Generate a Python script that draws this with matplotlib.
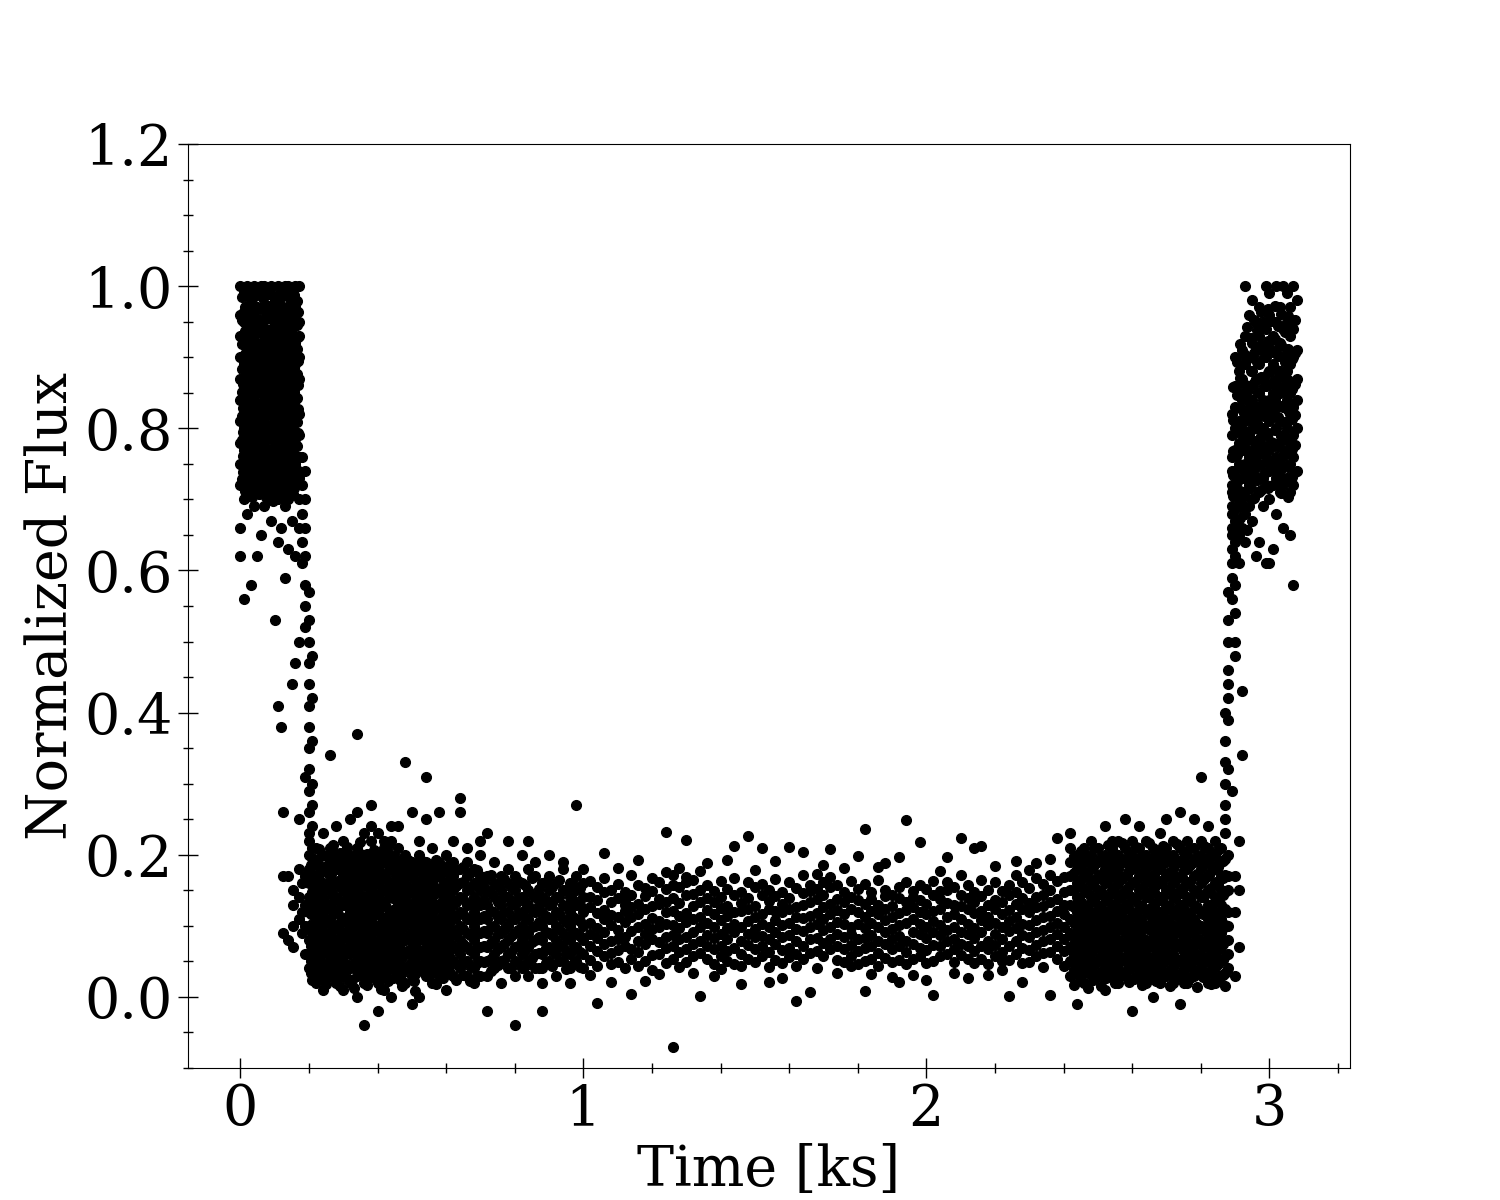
import numpy as np
import matplotlib.pyplot as plt
from matplotlib.ticker import MultipleLocator

plt.rcParams['font.family'] = ['DejaVu Serif']

# Данные: для каждой колонки времени (кс) — список значений потока

# вход в затмение, верхнее плато
top_in_t = [0.00, 0.01, 0.02, 0.03, 0.04, 0.05, 0.06, 0.07, 0.08, 0.09,
            0.10, 0.11, 0.12, 0.13, 0.14, 0.15, 0.16, 0.17]
top_in_f = [
    [1.00, .96, .93, .90, .87, .84, .81, .78, .75, .72, .66, .62],
    [.99, .95, .92, .89, .86, .83, .80, .77, .74, .70, .56],
    [1.00, .97, .94, .91, .88, .85, .82, .79, .76, .73, .68],
    [.98, .95, .92, .89, .86, .83, .80, .77, .74, .71, .58],
    [1.00, .96, .93, .90, .87, .84, .81, .78, .75, .72, .69],
    [.99, .97, .94, .91, .88, .85, .82, .79, .76, .73, .62],
    [1.00, .95, .92, .89, .86, .83, .80, .77, .74, .71, .65],
    [1.00, .97, .94, .90, .87, .84, .81, .78, .75, .72, .69],
    [.99, .96, .93, .91, .88, .85, .82, .79, .76, .73, .70],
    [1.00, .97, .94, .89, .86, .83, .80, .77, .74, .71, .67],
    [.98, .95, .92, .90, .87, .84, .81, .78, .75, .72, .53],
    [1.00, .96, .93, .88, .85, .82, .79, .76, .73, .70, .64, .41],
    [.99, .97, .94, .91, .86, .83, .80, .77, .74, .71, .66, .38],
    [1.00, .95, .92, .89, .87, .84, .81, .78, .75, .72, .69, .59],
    [1.00, .97, .93, .90, .85, .82, .79, .76, .73, .70, .63],
    [.98, .96, .94, .91, .88, .83, .80, .77, .74, .71, .67, .44],
    [1.00, .97, .92, .89, .86, .84, .81, .78, .75, .72, .62, .47],
    [1.00, .95, .93, .90, .87, .82, .79, .76, .73, .70, .66, .50],
]
top_in2_t = [0.005, 0.015, 0.025, 0.035, 0.045, 0.055, 0.065, 0.075, 0.085,
             0.095, 0.105, 0.115, 0.125, 0.135, 0.145, 0.155, 0.165]
top_in2_f = [
    [.985, .952, .918, .884, .851, .817, .783, .749, .728],
    [.971, .937, .904, .869, .836, .803, .768, .735, .712],
    [.991, .958, .923, .891, .857, .824, .789, .756, .721],
    [.976, .943, .909, .875, .842, .808, .774, .741, .703],
    [.987, .953, .919, .886, .852, .818, .785, .751, .724],
    [.969, .935, .901, .868, .834, .801, .767, .733, .708],
    [.984, .949, .916, .882, .848, .814, .781, .747, .715],
    [.973, .939, .906, .872, .838, .805, .771, .737, .704],
    [.989, .955, .921, .888, .854, .821, .787, .753, .726],
    [.968, .934, .901, .866, .833, .799, .766, .732, .698],
    [.981, .947, .913, .879, .846, .812, .778, .744, .711],
    [.974, .941, .907, .873, .839, .806, .772, .738, .706],
    [.986, .952, .918, .884, .851, .817, .783, .749, .719],
    [.971, .937, .903, .869, .836, .802, .768, .734, .701],
    [.983, .949, .915, .881, .847, .814, .780, .746, .713],
    [.976, .942, .908, .874, .841, .807, .773, .739, .707],
    [.979, .945, .911, .877, .843, .809, .775, .741, .722],
]
top_in3_t = [0.007, 0.017, 0.027, 0.037, 0.047, 0.057, 0.067, 0.077, 0.087,
             0.097, 0.107, 0.117, 0.127, 0.137, 0.147, 0.157, 0.167]
top_in3_f = [
    [.962, .931, .897, .862, .829, .795, .761, .738],
    [.993, .948, .914, .881, .847, .814, .779, .745],
    [.969, .936, .902, .867, .833, .801, .766, .732],
    [.995, .958, .925, .892, .857, .824, .791, .757, .722],
    [.971, .937, .903, .869, .835, .802, .768, .734],
    [.988, .953, .919, .885, .852, .818, .784, .751, .717],
    [.966, .932, .898, .864, .831, .797, .763, .729],
    [.991, .957, .923, .889, .855, .822, .788, .754, .719],
    [.972, .938, .904, .871, .837, .803, .769, .736],
    [.986, .952, .918, .884, .850, .816, .783, .749, .714],
    [.964, .929, .896, .862, .828, .794, .761, .727],
    [.989, .955, .921, .887, .853, .819, .786, .752, .718],
    [.969, .935, .901, .867, .834, .799, .765, .731],
    [.992, .958, .924, .889, .856, .822, .788, .754, .719],
    [.966, .932, .898, .864, .830, .796, .762, .729],
    [.987, .953, .919, .885, .851, .817, .784, .751, .716],
    [.963, .929, .895, .861, .827, .793, .759, .727],
]

# спад и отдельные точки слева от дна
drop_t = [0.125, 0.14, 0.155, 0.17, 0.18, 0.19, 0.20, 0.21]
drop_f = [
    [.17, .09, .26],
    [.17, .08],
    [.15, .13, .07, .10],
    [.14, .11, .25, .18],
    [.76, .72, .68, .64, .61, .16, .12, .09],
    [.74, .70, .66, .62, .58, .55, .52, .31, .17, .13, .10, .06],
    [.57, .53, .50, .47, .44, .41, .38, .35, .32, .29, .26, .23],
    [.48, .42, .36, .30, .27, .24, .21],
]

# дно затмения
bot_t = [0.20, 0.22, 0.24, 0.26, 0.28, 0.30, 0.32, 0.34, 0.36, 0.38, 0.40, 0.42, 0.44,
         0.46, 0.48, 0.50, 0.52, 0.54, 0.56, 0.58, 0.60, 0.62, 0.64, 0.66, 0.68, 0.70,
         0.72, 0.74, 0.76, 0.78, 0.80, 0.82, 0.84, 0.86, 0.88, 0.90, 0.92, 0.94, 0.96,
         0.98, 1.00]
bot_f = [
    [.20, .18, .16, .14, .12, .10, .08, .06, .04, .22],
    [.21, .19, .17, .15, .13, .11, .09, .07, .05, .03, .02],
    [.20, .18, .16, .14, .12, .10, .08, .06, .04, .23, .01],
    [.21, .19, .17, .15, .13, .11, .09, .07, .05, .03, .34],
    [.20, .18, .16, .14, .12, .10, .08, .06, .04, .02, .24],
    [.22, .19, .17, .15, .13, .11, .09, .07, .05, .03, .01],
    [.20, .18, .16, .14, .12, .10, .08, .06, .04, .25, .02],
    [.21, .19, .17, .15, .13, .11, .09, .07, .05, .03, .37, .00, .26],
    [.23, .20, .18, .16, .14, .12, .10, .08, .06, .04, .02, -.04],
    [.22, .19, .17, .15, .13, .11, .09, .07, .05, .03, .24, .27],
    [.20, .18, .16, .14, .12, .10, .08, .06, .04, .02, .23, -.02],
    [.21, .19, .17, .15, .13, .11, .09, .07, .05, .03, .22, .01],
    [.22, .20, .18, .16, .14, .12, .10, .08, .06, .04, .24, .00],
    [.19, .17, .15, .13, .11, .09, .07, .05, .03, .24, .21],
    [.20, .18, .16, .14, .12, .10, .08, .06, .04, .02, .33],
    [.19, .17, .15, .13, .11, .09, .07, .05, .03, .26, -.01],
    [.20, .18, .16, .14, .12, .10, .08, .06, .04, .22, .00],
    [.19, .17, .15, .13, .11, .09, .07, .05, .03, .31, .25],
    [.21, .18, .16, .14, .12, .10, .08, .06, .04, .02],
    [.19, .17, .15, .13, .11, .09, .07, .05, .03, .26],
    [.20, .18, .16, .14, .12, .10, .08, .06, .04, .01],
    [.19, .17, .15, .13, .11, .09, .07, .05, .03, .22],
    [.18, .16, .14, .12, .10, .08, .06, .04, .26, .28],
    [.19, .17, .15, .13, .11, .09, .07, .05, .03, .21],
    [.18, .16, .14, .12, .10, .08, .06, .04, .02],
    [.17, .15, .13, .11, .09, .07, .05, .03, .20, .22],
    [.17, .15, .13, .11, .09, .07, .05, .03, .23, -.02],
    [.16, .14, .12, .10, .08, .06, .04, .19],
    [.17, .15, .13, .11, .09, .07, .05, .02],
    [.18, .16, .14, .12, .10, .08, .06, .04, .22],
    [.17, .15, .13, .11, .09, .07, .05, .03, -.04],
    [.16, .14, .12, .10, .08, .06, .04, .20],
    [.18, .15, .13, .11, .09, .07, .05, .03, .22],
    [.17, .14, .12, .10, .08, .06, .04, .19],
    [.16, .14, .12, .10, .08, .06, .04, .02, -.02],
    [.17, .15, .13, .11, .09, .07, .05, .20],
    [.16, .14, .12, .10, .08, .06, .03],
    [.18, .15, .13, .11, .09, .07, .05, .19],
    [.16, .14, .12, .10, .08, .06, .04, .02],
    [.17, .15, .13, .11, .09, .07, .05, .27],
    [.16, .14, .12, .10, .08, .06, .04, .18],
]
bot2_t = [0.21, 0.23, 0.25, 0.27, 0.29, 0.31, 0.33, 0.35, 0.37, 0.39, 0.41, 0.43, 0.45,
          0.47, 0.49, 0.51, 0.53, 0.55, 0.57, 0.59, 0.61, 0.63, 0.65, 0.67, 0.69,
          0.71, 0.73, 0.75, 0.77, 0.79, 0.81, 0.83, 0.85, 0.87, 0.89, 0.91, 0.93,
          0.95, 0.97, 0.99]
bot2_f = [
    [.195, .172, .148, .127, .103, .085, .061, .043, .024],
    [.208, .181, .157, .133, .116, .092, .068, .047, .029],
    [.198, .176, .153, .129, .109, .087, .064, .038, .018],
    [.214, .186, .162, .141, .119, .096, .073, .052, .031],
    [.203, .179, .155, .132, .104, .083, .059, .036, .015],
    [.211, .188, .164, .138, .113, .091, .067, .045, .026],
    [.196, .173, .151, .126, .107, .082, .063, .041, .012],
    [.218, .193, .168, .143, .121, .098, .076, .054, .033],
    [.201, .178, .154, .131, .108, .086, .062, .039, .017],
    [.207, .184, .159, .136, .117, .094, .071, .048, .027],
    [.193, .171, .149, .128, .103, .081, .058, .035, .011],
    [.212, .187, .161, .139, .114, .093, .069, .046, .023],
    [.197, .174, .152, .124, .106, .084, .061, .038],
    [.189, .166, .143, .121, .099, .078, .056, .034, .015],
    [.193, .171, .147, .127, .105, .083, .062, .041],
    [.186, .163, .142, .118, .097, .076, .053, .032, .009],
    [.191, .168, .145, .123, .102, .081, .059, .037],
    [.184, .161, .139, .117, .094, .073, .052, .029],
    [.192, .169, .146, .124, .101, .079, .057, .036, .018],
    [.181, .158, .136, .113, .092, .071, .049, .027],
    [.188, .164, .141, .119, .098, .077, .055, .033],
    [.179, .156, .133, .112, .089, .068, .046, .024],
    [.183, .162, .138, .116, .095, .074, .051, .031],
    [.174, .153, .131, .109, .087, .066, .044, .022],
    [.178, .157, .134, .113, .091, .069, .048, .029],
    [.162, .138, .114, .093, .071, .049],
    [.171, .147, .121, .098, .076, .054, .036],
    [.158, .133, .112, .089, .067, .045],
    [.166, .142, .119, .096, .074, .052],
    [.154, .131, .108, .086, .063, .041],
    [.163, .139, .117, .094, .072, .049],
    [.157, .134, .111, .088, .066, .043],
    [.168, .144, .121, .099, .077, .055],
    [.152, .129, .106, .085, .062, .041],
    [.161, .137, .114, .092, .069, .048],
    [.155, .132, .109, .087, .065, .044],
    [.164, .141, .118, .096, .073, .051],
    [.151, .128, .105, .083, .061, .039],
    [.159, .136, .113, .091, .068, .046],
    [.153, .129, .107, .086, .063, .042],
]
bot3_t = [0.205, 0.225, 0.245, 0.265, 0.285, 0.305, 0.325, 0.345, 0.365, 0.385, 0.405,
          0.425, 0.445, 0.465, 0.485, 0.505, 0.525, 0.545, 0.565, 0.585, 0.605]
bot3_f = [
    [.186, .162, .139, .116, .094, .072, .051, .033],
    [.194, .169, .145, .122, .099, .077, .055, .036],
    [.183, .158, .134, .111, .089, .068, .046, .027],
    [.197, .173, .149, .126, .103, .081, .059, .039],
    [.188, .163, .139, .117, .094, .071, .049, .026],
    [.199, .176, .152, .129, .106, .084, .061, .038],
    [.185, .161, .137, .114, .091, .069, .047, .024],
    [.203, .179, .156, .132, .109, .087, .064, .041],
    [.189, .166, .141, .118, .096, .073, .051, .028],
    [.196, .172, .148, .125, .102, .079, .057, .034],
    [.184, .161, .138, .115, .093, .071, .048, .026],
    [.198, .174, .151, .127, .105, .082, .059, .037],
    [.187, .163, .139, .116, .094, .071, .049, .027],
    [.181, .158, .135, .112, .089, .067, .045, .024],
    [.179, .155, .132, .109, .086, .064, .043],
    [.176, .153, .129, .107, .084, .062, .041, .022],
    [.182, .158, .134, .111, .088, .065, .044],
    [.174, .151, .128, .105, .083, .061, .039],
    [.178, .155, .131, .108, .086, .063, .042],
    [.171, .148, .125, .103, .081, .059, .038],
    [.176, .152, .129, .106, .084, .062, .041],
]

mid_t = [1.02, 1.04, 1.06, 1.08, 1.10, 1.12, 1.14, 1.16, 1.18, 1.20, 1.22, 1.24, 1.26,
         1.28, 1.30, 1.32, 1.34, 1.36, 1.38, 1.40, 1.42, 1.44, 1.46, 1.48, 1.50, 1.52,
         1.54, 1.56, 1.58, 1.60, 1.62, 1.64, 1.66, 1.68, 1.70, 1.72, 1.74, 1.76, 1.78,
         1.80, 1.82, 1.84, 1.86, 1.88, 1.90, 1.92, 1.94, 1.96, 1.98, 2.00, 2.02, 2.04,
         2.06, 2.08, 2.10, 2.12, 2.14, 2.16, 2.18, 2.20, 2.22, 2.24, 2.26, 2.28, 2.30,
         2.32, 2.34, 2.36, 2.38, 2.40]
mid_f = [
    [.163, .141, .127, .104, .088, .071, .052, .031],
    [.155, .136, .118, .097, .083, .064, .043, -.008],
    [.168, .147, .122, .109, .091, .074, .058, .203],
    [.151, .133, .115, .101, .079, .062, .047, .021],
    [.159, .139, .112, .094, .081, .066, .049, .181],
    [.148, .129, .121, .106, .085, .072, .041, .135],
    [.171, .144, .126, .113, .093, .068, .054, .004],
    [.158, .131, .117, .099, .078, .063, .044, .192],
    [.153, .142, .124, .102, .089, .074, .051, .023],
    [.167, .149, .128, .111, .095, .081, .059, .038],
    [.162, .138, .131, .107, .098, .077, .061, .032],
    [.176, .152, .134, .119, .103, .084, .069, .048, .232],
    [.171, .158, .139, .121, .101, .087, .071, .053, -.071],
    [.181, .154, .132, .114, .097, .082, .063, .042],
    [.169, .161, .143, .118, .105, .085, .068, .049, .221],
    [.164, .145, .128, .109, .092, .074, .057, .034],
    [.177, .151, .133, .112, .099, .079, .062, .002],
    [.158, .139, .122, .104, .087, .071, .053, .188],
    [.149, .134, .116, .098, .083, .068, .047, .029],
    [.163, .141, .125, .108, .089, .072, .058, .039],
    [.152, .128, .114, .097, .081, .064, .051, .193],
    [.168, .143, .119, .103, .091, .069, .046, .212],
    [.147, .132, .121, .099, .078, .061, .043, .018],
    [.161, .139, .123, .107, .088, .073, .054, .226],
    [.154, .128, .113, .096, .084, .067, .049, .179],
    [.159, .144, .117, .102, .086, .071, .057, .209],
    [.151, .135, .124, .098, .081, .063, .042, .021],
    [.166, .142, .121, .108, .092, .074, .052, .191],
    [.148, .131, .119, .101, .084, .066, .048, .027],
    [.162, .139, .123, .104, .087, .069, .056, .211],
    [.153, .127, .112, .095, .079, .061, .044, -.006],
    [.171, .146, .129, .111, .093, .072, .053, .204],
    [.158, .149, .133, .114, .098, .081, .062, .007],
    [.173, .152, .138, .118, .102, .083, .064, .041],
    [.161, .143, .127, .109, .094, .076, .058, .186],
    [.169, .154, .131, .117, .099, .082, .067, .208],
    [.157, .138, .122, .106, .088, .071, .052, .033],
    [.148, .133, .116, .102, .084, .068, .049, .182],
    [.163, .141, .124, .098, .089, .073, .057, .043],
    [.152, .136, .119, .103, .081, .064, .047, .198],
    [.159, .131, .113, .097, .083, .069, .051, .236, .009],
    [.147, .138, .121, .104, .087, .072, .054, .032],
    [.164, .129, .117, .099, .078, .062, .043, .183],
    [.151, .142, .124, .108, .091, .074, .055, .189],
    [.143, .128, .112, .096, .082, .067, .049, .028],
    [.154, .139, .118, .101, .086, .071, .052, .197, .021],
    [.161, .133, .122, .104, .079, .063, .046, .249],
    [.149, .141, .126, .109, .092, .075, .053, .031],
    [.158, .137, .119, .102, .088, .069, .057, .218],
    [.152, .131, .117, .098, .083, .066, .048, .024],
    [.163, .143, .121, .107, .091, .073, .051, .003],
    [.149, .138, .124, .101, .087, .071, .058, .177],
    [.162, .151, .132, .113, .094, .078, .061, .197],
    [.154, .129, .116, .099, .081, .067, .049, .034],
    [.171, .144, .128, .109, .092, .074, .059, .223],
    [.158, .139, .123, .102, .088, .071, .053, .027],
    [.147, .133, .118, .097, .083, .064, .048, .209],
    [.164, .142, .121, .108, .091, .072, .054, .212],
    [.151, .129, .113, .101, .079, .068, .047, .031],
    [.162, .137, .124, .104, .089, .073, .058, .184],
    [.149, .134, .117, .098, .082, .063, .051, .038],
    [.158, .143, .122, .107, .093, .071, .052, .001],
    [.172, .148, .131, .112, .097, .079, .061, .191],
    [.161, .139, .123, .103, .087, .069, .048, .021],
    [.153, .132, .119, .101, .084, .066, .049, .179],
    [.168, .141, .126, .108, .091, .073, .057, .189],
    [.159, .143, .128, .113, .094, .078, .062, .042],
    [.172, .151, .133, .114, .098, .081, .063, .194, .003],
    [.163, .138, .121, .104, .088, .071, .053, .224],
    [.169, .147, .129, .116, .099, .082, .064, .043],
]

late_t = [2.42, 2.44, 2.46, 2.48, 2.50, 2.52, 2.54, 2.56, 2.58, 2.60, 2.62, 2.64,
          2.66, 2.68, 2.70, 2.72, 2.74, 2.76, 2.78, 2.80, 2.82, 2.84, 2.86, 2.88]
late_f = [
    [.21, .19, .17, .15, .13, .11, .09, .07, .05, .03, .23],
    [.20, .18, .16, .14, .12, .10, .08, .06, .04, -.01],
    [.21, .19, .17, .15, .13, .11, .09, .07, .05, .02],
    [.20, .18, .16, .14, .12, .10, .08, .06, .04, .22],
    [.21, .19, .17, .15, .13, .11, .09, .07, .05, .03],
    [.20, .18, .16, .14, .12, .10, .08, .06, .04, .01, .24],
    [.21, .19, .17, .15, .13, .11, .09, .07, .05, .03, .22],
    [.22, .20, .18, .16, .14, .12, .10, .08, .06, .04, .02],
    [.21, .19, .17, .15, .13, .11, .09, .07, .05, .03, .25],
    [.22, .20, .18, .16, .14, .12, .10, .08, .06, .04, -.02],
    [.21, .19, .17, .15, .13, .11, .09, .07, .05, .03, .24],
    [.22, .20, .18, .16, .14, .12, .10, .08, .06, .04, .02],
    [.21, .19, .17, .15, .13, .11, .09, .07, .05, .03, .00],
    [.23, .20, .18, .16, .14, .12, .10, .08, .06, .04, .02],
    [.21, .19, .17, .15, .13, .11, .09, .07, .05, .03, .25],
    [.22, .20, .18, .16, .14, .12, .10, .08, .06, .04, .02],
    [.21, .19, .17, .15, .13, .11, .09, .07, .05, .03, .26, -.01],
    [.22, .20, .18, .16, .14, .12, .10, .08, .06, .04, .02],
    [.21, .19, .17, .15, .13, .11, .09, .07, .05, .03, .25],
    [.22, .20, .18, .16, .14, .12, .10, .08, .06, .04, .31],
    [.21, .19, .17, .15, .13, .11, .09, .07, .05, .02, .24],
    [.22, .20, .18, .16, .14, .12, .10, .08, .06, .04, .02],
    [.21, .19, .17, .15, .13, .11, .09, .07, .05, .03],
    [.20, .17, .15, .12, .10, .08, .06, .04],
]
late2_t = [2.43, 2.45, 2.47, 2.49, 2.51, 2.53, 2.55, 2.57, 2.59, 2.61, 2.63, 2.65,
           2.67, 2.69, 2.71, 2.73, 2.75, 2.77, 2.79, 2.81, 2.83, 2.85, 2.87]
late2_f = [
    [.198, .174, .151, .127, .104, .083, .061, .039, .017],
    [.206, .182, .158, .134, .112, .089, .066, .043, .024],
    [.193, .169, .147, .123, .101, .078, .056, .034, .013],
    [.209, .186, .162, .138, .116, .092, .071, .048, .027],
    [.197, .173, .149, .126, .103, .081, .059, .037, .016],
    [.214, .189, .166, .141, .119, .096, .073, .051, .029],
    [.201, .177, .154, .131, .107, .085, .063, .041, .019],
    [.216, .192, .168, .144, .122, .099, .076, .053, .032],
    [.203, .179, .156, .132, .109, .087, .064, .042, .021],
    [.211, .187, .163, .139, .117, .094, .072, .049, .028],
    [.199, .176, .152, .128, .106, .083, .061, .038, .017],
    [.217, .193, .169, .146, .123, .101, .078, .055, .033],
    [.204, .181, .157, .134, .111, .088, .066, .043, .022],
    [.212, .188, .165, .141, .118, .096, .073, .051, .029],
    [.198, .175, .151, .127, .105, .082, .059, .037, .016],
    [.215, .191, .167, .143, .121, .098, .075, .052, .031],
    [.202, .178, .155, .131, .108, .086, .063, .041, .019],
    [.209, .186, .161, .138, .115, .093, .071, .048, .027],
    [.196, .173, .149, .126, .103, .081, .058, .036, .014],
    [.213, .189, .166, .142, .119, .097, .074, .052, .031],
    [.201, .177, .153, .129, .107, .084, .062, .039, .018],
    [.207, .183, .159, .136, .113, .091, .068, .046, .024],
    [.194, .171, .147, .124, .101, .079, .057, .034, .016],
]
late3_t = [2.445, 2.465, 2.485, 2.505, 2.525, 2.545, 2.565, 2.585, 2.605, 2.625, 2.645,
           2.665, 2.685, 2.705, 2.725, 2.745, 2.765, 2.785, 2.805, 2.825, 2.845, 2.865]
late3_f = [
    [.187, .163, .139, .115, .093, .071, .049, .028],
    [.196, .171, .147, .124, .101, .079, .056, .035],
    [.183, .159, .135, .112, .089, .067, .045, .024],
    [.193, .169, .145, .121, .098, .076, .054, .032],
    [.186, .161, .137, .114, .092, .069, .047, .026],
    [.198, .174, .151, .127, .104, .081, .058, .036],
    [.189, .165, .141, .117, .095, .073, .051, .029],
    [.194, .171, .148, .125, .102, .079, .057, .035],
    [.185, .162, .138, .114, .091, .069, .047, .025],
    [.197, .173, .149, .126, .103, .081, .059, .037],
    [.188, .164, .141, .117, .095, .072, .049, .028],
    [.195, .172, .148, .124, .101, .078, .056, .034],
    [.184, .161, .137, .113, .091, .068, .046, .025],
    [.199, .175, .152, .128, .105, .082, .059, .036],
    [.187, .163, .139, .116, .093, .071, .048, .027],
    [.193, .169, .146, .122, .099, .077, .054, .033],
    [.185, .161, .138, .114, .092, .069, .047, .026],
    [.196, .172, .148, .125, .102, .079, .057, .035],
    [.188, .164, .141, .117, .094, .072, .049, .028],
    [.194, .171, .147, .123, .101, .078, .055, .034],
    [.186, .162, .138, .115, .092, .069, .047, .026],
    [.191, .167, .143, .119, .097, .074, .052, .031],
]

# выход из затмения
rise_t = [2.87, 2.88, 2.89, 2.90, 2.91, 2.92]
rise_f = [
    [.40, .36, .33, .30, .27, .25, .23],
    [.57, .53, .50, .46, .44, .42, .39, .32],
    [.74, .71, .68, .65, .61, .59, .56, .29],
    [.72, .66, .62, .58, .54, .50, .48, .17, .12, .03],
    [.22, .15, .07],
    [.43, .34],
]

top_out_t = [2.89, 2.90, 2.91, 2.92, 2.93, 2.94, 2.95, 2.96, 2.97, 2.98, 2.99,
             3.00, 3.01, 3.02, 3.03, 3.04, 3.05, 3.06, 3.07, 3.08]
top_out_f = [
    [.82, .79, .76, .72, .69, .66, .63],
    [.90, .86, .83, .80, .77, .74, .71, .67, .64],
    [.88, .85, .81, .78, .75, .70, .65, .61],
    [.91, .87, .84, .80, .77, .73, .69, .66],
    [1.00, .93, .89, .85, .82, .78, .75, .71, .68, .64],
    [.96, .90, .86, .83, .79, .76, .72, .69],
    [.98, .92, .88, .84, .81, .77, .74, .70, .67],
    [.95, .91, .87, .83, .80, .76, .73, .62],
    [.97, .93, .89, .85, .82, .78, .75, .71, .64],
    [.95, .91, .87, .84, .80, .77, .73, .69],
    [1.00, .94, .90, .86, .83, .79, .76, .72, .61],
    [.99, .96, .92, .88, .84, .81, .77, .74, .70, .61],
    [.93, .89, .85, .82, .78, .75, .72, .63],
    [1.00, .95, .91, .87, .83, .80, .76, .73, .68],
    [.97, .92, .88, .85, .81, .78, .74, .71],
    [1.00, .94, .90, .86, .83, .79, .76, .72, .66],
    [.99, .95, .91, .88, .84, .80, .77, .73],
    [.97, .93, .89, .85, .82, .78, .75, .71, .65],
    [1.00, .94, .90, .86, .83, .79, .76, .72, .58],
    [.98, .91, .87, .84, .80, .74],
]
top_out2_t = [2.895, 2.905, 2.915, 2.925, 2.935, 2.945, 2.955, 2.965, 2.975, 2.985,
              2.995, 3.005, 3.015, 3.025, 3.035, 3.045, 3.055, 3.065, 3.075]
top_out2_f = [
    [.858, .812, .768, .734, .705, .652],
    [.893, .847, .805, .762, .725, .688],
    [.918, .871, .829, .793, .746, .712, .674],
    [.905, .862, .821, .782, .741, .703],
    [.942, .897, .853, .812, .768, .728, .657],
    [.927, .881, .838, .797, .754, .716],
    [.952, .906, .864, .823, .782, .741, .702],
    [.938, .893, .851, .808, .766, .727],
    [.963, .917, .872, .831, .789, .748, .713],
    [.946, .901, .859, .817, .775, .736],
    [.968, .923, .878, .836, .794, .752, .716],
    [.951, .907, .864, .822, .781, .743],
    [.972, .926, .883, .841, .798, .757, .721],
    [.944, .902, .858, .816, .773, .735],
    [.961, .917, .874, .832, .789, .748, .709],
    [.936, .893, .851, .809, .767, .728],
    [.958, .912, .868, .826, .784, .746, .703],
    [.941, .897, .855, .813, .771, .732],
    [.952, .906, .862, .819, .777, .739],
]

segments = [(top_in_t, top_in_f), (top_in2_t, top_in2_f), (top_in3_t, top_in3_f),
            (drop_t, drop_f), (bot_t, bot_f), (bot2_t, bot2_f), (bot3_t, bot3_f),
            (mid_t, mid_f), (late_t, late_f), (late2_t, late2_f), (late3_t, late3_f),
            (rise_t, rise_f), (top_out_t, top_out_f), (top_out2_t, top_out2_f)]

time, flux = [], []
for seg_t, seg_f in segments:
    for t, col in zip(seg_t, seg_f):
        time += [t] * len(col)
        flux += col

y_ticks = [0.0, 0.2, 0.4, 0.6, 0.8, 1.0, 1.2]
x_ticks = [0, 1, 2, 3]

fig, ax = plt.subplots(figsize=(15, 12), dpi=100)
ax.plot(time, flux, 'o', color='black', ms=7)

ax.set_xlim(-0.154, 3.235)
ax.set_ylim(-0.1, 1.2)
ax.set_xticks(x_ticks)
ax.set_yticks(y_ticks)
ax.xaxis.set_minor_locator(MultipleLocator(0.2))
ax.yaxis.set_minor_locator(MultipleLocator(0.05))
ax.tick_params(which='major', direction='inout', length=14, width=1, labelsize=40)
ax.tick_params(which='minor', direction='inout', length=7, width=1)

ax.set_xlabel('Time [ks]', fontsize=40)
ax.set_ylabel('Normalized Flux', fontsize=40)

plt.savefig('out.png')
